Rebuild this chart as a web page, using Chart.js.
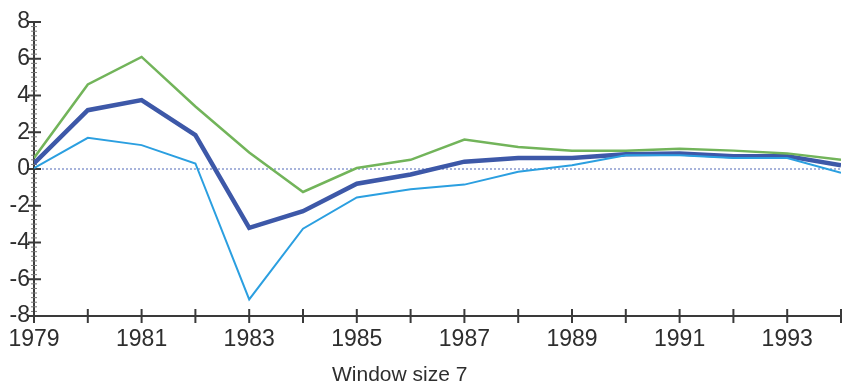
<!DOCTYPE html>
<html lang="en">
<head>
    <meta charset="UTF-8">
    <title>Window size 7</title>
    <style>
        html, body {
            margin: 0;
            padding: 0;
            background: #fff;
        }
        #wrap {
            width: 843px;
            height: 387px;
            position: relative;
        }
        #titulo {
            position: absolute;
            left: 332px;
            top: 362px;
            font-family: 'Liberation Sans', Arial, sans-serif;
            font-size: 21px;
            line-height: 24px;
            color: #2e2e2e;
            white-space: nowrap;
        }
    </style>
    <script src="https://cdn.jsdelivr.net/npm/chart.js"></script>
</head>
<body>

<div id="wrap">
    <canvas id="grafico"></canvas>
    <div id="titulo">Window size 7</div>
</div>

<script>
// data
const years = [1979, 1980, 1981, 1982, 1983, 1984, 1985, 1986, 1987, 1988, 1989, 1990, 1991, 1992, 1993, 1994];
const upper = [0.6, 4.6, 6.1, 3.4, 0.9, -1.25, 0.05, 0.5, 1.6, 1.2, 1.0, 1.0, 1.1, 1.0, 0.85, 0.5];
const middle = [0.3, 3.2, 3.75, 1.85, -3.2, -2.3, -0.8, -0.3, 0.4, 0.6, 0.6, 0.8, 0.85, 0.7, 0.7, 0.2];
const lower = [0.05, 1.7, 1.3, 0.3, -7.1, -3.25, -1.55, -1.1, -0.85, -0.15, 0.2, 0.75, 0.75, 0.6, 0.6, -0.2];
const yTicks = [-8, -6, -4, -2, 0, 2, 4, 6, 8];
const labelYears = [1979, 1981, 1983, 1985, 1987, 1989, 1991, 1993];

const toPts = arr => arr.map((v, i) => ({x: years[i], y: v}));

// axes with ticks crossing the line, plus dotted zero line
const axesPlugin = {
    id: 'axes',
    beforeDatasetsDraw(chart) {
        const {ctx, chartArea: a, scales: {x, y}} = chart;
        ctx.save();
        // zero line
        ctx.strokeStyle = '#8a9ad0';
        ctx.lineWidth = 1.5;
        ctx.setLineDash([2, 2]);
        ctx.beginPath();
        ctx.moveTo(a.left, y.getPixelForValue(0));
        ctx.lineTo(a.right, y.getPixelForValue(0));
        ctx.stroke();
        ctx.setLineDash([]);

        ctx.strokeStyle = '#3a3a3a';
        ctx.lineWidth = 2;
        ctx.beginPath();
        ctx.moveTo(a.left, a.top);
        ctx.lineTo(a.left, a.bottom);
        ctx.lineTo(a.right, a.bottom);
        ctx.stroke();

        // y minor ticks
        ctx.lineWidth = 1;
        ctx.strokeStyle = '#777';
        for (let v = -8; v <= 8; v += 0.25) {
            const py = y.getPixelForValue(v);
            ctx.beginPath();
            ctx.moveTo(a.left - 3, py);
            ctx.lineTo(a.left + 3, py);
            ctx.stroke();
        }
        // y major ticks
        ctx.lineWidth = 2;
        ctx.strokeStyle = '#3a3a3a';
        yTicks.forEach(v => {
            const py = y.getPixelForValue(v);
            ctx.beginPath();
            ctx.moveTo(a.left - 6, py);
            ctx.lineTo(a.left + 7, py);
            ctx.stroke();
        });
        // x ticks
        years.forEach(yr => {
            const px = x.getPixelForValue(yr);
            ctx.beginPath();
            ctx.moveTo(px, a.bottom - 7);
            ctx.lineTo(px, a.bottom + 7);
            ctx.stroke();
        });
        ctx.restore();
    }
};

const ctx = document.getElementById('grafico').getContext('2d');
const chart = new Chart(ctx, {
    type: 'line',
    data: {
        datasets: [
            {
                label: 'upper',
                data: toPts(upper),
                borderColor: '#72b45a',
                borderWidth: 2.5
            },
            {
                label: 'lower',
                data: toPts(lower),
                borderColor: '#2b9fe0',
                borderWidth: 2
            },
            {
                label: 'middle',
                data: toPts(middle),
                borderColor: '#3d58a8',
                borderWidth: 4.5
            }
        ]
    },
    options: {
        responsive: true,
        maintainAspectRatio: false,
        animation: false,
        elements: {
            point: {radius: 0},
            line: {tension: 0}
        },
        layout: {
            padding: {top: 22, right: 0, left: 0, bottom: 0}
        },
        plugins: {
            legend: {display: false},
            tooltip: {enabled: false},
            title: {display: false}
        },
        scales: {
            x: {
                type: 'linear',
                min: 1979,
                max: 1994,
                grid: {display: false},
                border: {display: false},
                afterFit: s => { s.height = 71; },
                afterBuildTicks: s => { s.ticks = years.map(v => ({value: v})); },
                ticks: {
                    autoSkip: false,
                    maxRotation: 0,
                    padding: 2,
                    color: '#2e2e2e',
                    font: {family: 'Liberation Sans', size: 23},
                    callback: v => labelYears.includes(v) ? String(v) : ''
                }
            },
            y: {
                min: -8,
                max: 8,
                grid: {display: false},
                border: {display: false},
                afterFit: s => { s.width = 34; },
                afterBuildTicks: s => { s.ticks = yTicks.map(v => ({value: v})); },
                ticks: {
                    padding: -4,
                    color: '#2e2e2e',
                    font: {family: 'Liberation Sans', size: 23}
                }
            }
        }
    },
    plugins: [axesPlugin]
});
</script>

</body>
</html>
